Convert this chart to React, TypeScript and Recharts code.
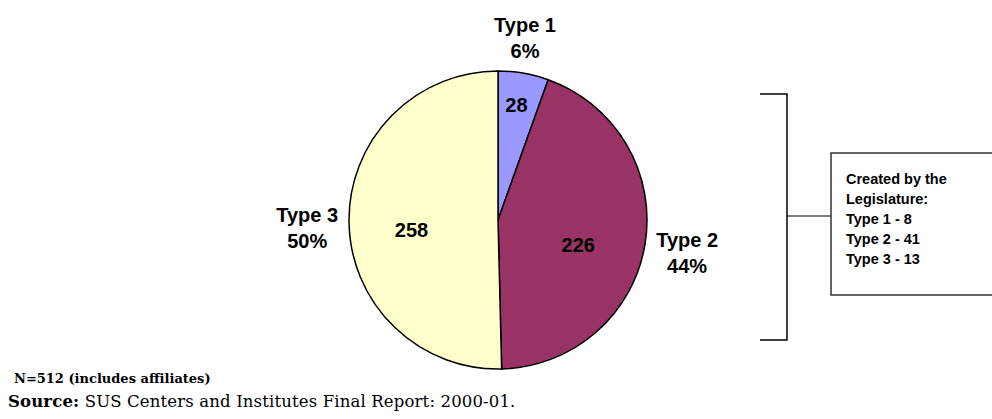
import React from 'react';
import { PieChart, Pie, Cell } from 'recharts';

const types = ['Type 1', 'Type 2', 'Type 3'];
const counts = [28, 226, 258];
const pctLabels = [6, 44, 50];
const legislature = [8, 41, 13];
const colors = ['#9999FF', '#993366', '#FFFFCC'];

const pieData = types.map((name, i) => ({ name, value: counts[i], pct: pctLabels[i] }));

// Excel put the labels by hand, so each slice gets its own distance / angle nudge
const innerPos = [
  [116, 0.7],
  [84, -7.9],
  [87, 5.6],
];
const outerPos = [
  [184, 1.4],
  [192, -0.8],
  [191, 1.7],
];

const RAD = Math.PI / 180;

const polar = (cx: number, cy: number, r: number, a: number) => [
  cx + r * Math.cos(-a * RAD),
  cy + r * Math.sin(-a * RAD),
];

const renderLabel = (props: any) => {
  const { cx, cy, midAngle, index, value, name, payload } = props;
  const [xi, yi] = polar(cx, cy, innerPos[index][0], midAngle + innerPos[index][1]);
  const [xo, yo] = polar(cx, cy, outerPos[index][0], midAngle + outerPos[index][1]);
  const font = { fontFamily: 'Liberation Sans, Arial, sans-serif', fontWeight: 700, fontSize: 20, fill: '#000' };
  return (
    <g>
      <text x={xi} y={yi} textAnchor="middle" dominantBaseline="central" {...font}>
        {value}
      </text>
      <text x={xo} y={yo - 6} textAnchor="middle" {...font}>
        {name}
      </text>
      <text x={xo} y={yo + 20} textAnchor="middle" {...font}>
        {(payload && payload.pct) ?? pctLabels[index]}%
      </text>
    </g>
  );
};

export default function App() {
  return (
    <div style={{ position: 'absolute', left: 0, top: 0, width: 992, height: 419, background: '#fff' }}>
      <PieChart width={992} height={419} margin={{ top: 0, right: 0, bottom: 0, left: 0 }}>
        <Pie
          data={pieData}
          dataKey="value"
          nameKey="name"
          cx={498}
          cy={220}
          outerRadius={149}
          startAngle={90}
          endAngle={-270}
          stroke="#000"
          strokeWidth={1.5}
          label={renderLabel}
          labelLine={false}
          isAnimationActive={false}
        >
          {pieData.map((d, i) => (
            <Cell key={d.name} fill={colors[i]} />
          ))}
        </Pie>
      </PieChart>
      <svg
        width={992}
        height={419}
        style={{ position: 'absolute', left: 0, top: 0, pointerEvents: 'none' }}
      >
        <path d="M760 94 H787 V340 H760" fill="none" stroke="#000" strokeWidth={1.5} />
        <line x1={787} y1={216} x2={831} y2={216} stroke="#000" strokeWidth={1} />
        <rect x={831} y={153} width={170} height={142} fill="#fff" stroke="#333" strokeWidth={1.5} />
        <g style={{ fontFamily: 'Liberation Sans, Arial, sans-serif', fontWeight: 700, fontSize: 14.5 }}>
          <text x={846} y={184}>Created by the</text>
          <text x={846} y={204}>Legislature:</text>
          {types.map((t, i) => (
            <text key={t} x={846} y={224 + i * 20}>
              {t} - {legislature[i]}
            </text>
          ))}
        </g>
        <text x={14} y={383} style={{ fontFamily: 'DejaVu Serif, serif', fontWeight: 700, fontSize: 13 }}>
          N=512 (includes affiliates)
        </text>
        <text x={8} y={407} style={{ fontFamily: 'DejaVu Serif, serif', fontSize: 16.5, letterSpacing: 0.15 }}>
          <tspan fontWeight={700}>Source:</tspan> SUS Centers and Institutes Final Report: 2000-01.
        </text>
      </svg>
    </div>
  );
}
